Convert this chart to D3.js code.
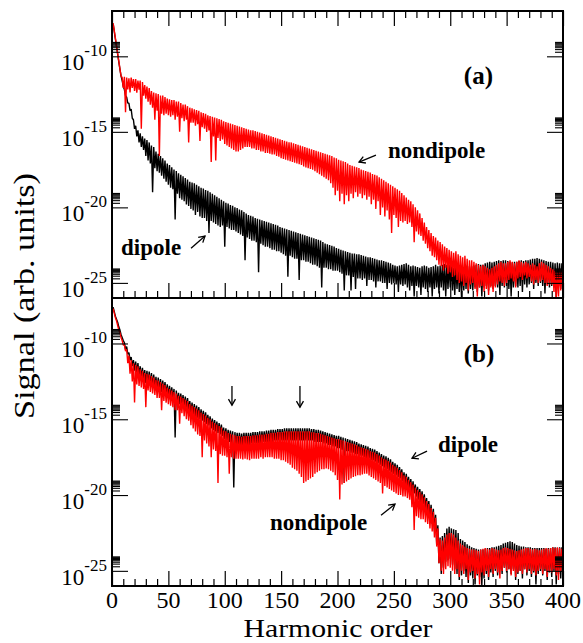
<!DOCTYPE html>
<html><head><meta charset="utf-8">
<script src="https://cdn.jsdelivr.net/npm/d3@7"></script>
<style>
body{margin:0;background:#fff}
svg{display:block}
</style>
</head><body>
<svg id="chart" width="583" height="643" font-family="'Liberation Serif', 'Times New Roman', Times, serif"></svg>
<script>
// ---------------- DATA ----------------
// harmonic orders 1..400, values are log10(signal)
const harmonicOrders = d3.range(1, 401);
const xTicksMajor = [0, 50, 100, 150, 200, 250, 300, 350, 400];
const xTicksMinor = d3.range(0, 401, 10).filter(v => v % 50 !== 0);
const yTickExponents = [-10, -15, -20, -25];
const yMinorMultipliers = [2, 3, 4, 5, 6, 7, 8, 9];

// panel (a) dipole (black)
const dipoleA = [
-7.85,-8.35,-8.85,-9.35,-9.85,-10.35,-10.85,-11.3,-11.6,-12.0,
-12.2,-12.6,-12.7,-13.1,-13.1,-13.6,-13.5,-14.1,-14.2,-14.8,
-14.6,-15.3,-14.9,-15.7,-15.1,-16.0,-15.3,-16.2,-15.45,-16.6,
-15.55,-16.9,-15.7,-17.1,-15.9,-19.0,-16.0,-17.4,-16.3,-17.6,
-16.45,-17.7,-16.6,-17.9,-16.75,-18.1,-16.9,-18.3,-17.1,-18.5,
-17.2,-18.7,-17.35,-18.8,-17.5,-20.8,-17.6,-19.1,-17.75,-19.4,
-17.85,-19.5,-17.95,-19.6,-18.05,-19.8,-18.15,-19.9,-18.3,-20.1,
-18.35,-20.2,-18.4,-20.5,-18.5,-20.3,-18.6,-20.6,-18.7,-20.7,
-18.75,-20.7,-18.85,-20.9,-18.9,-21.7,-19.0,-20.9,-19.1,-21.0,
-19.2,-21.1,-19.3,-21.2,-19.4,-21.3,-19.5,-21.2,-19.6,-22.6,
-19.7,-21.3,-19.75,-21.4,-19.85,-21.5,-19.9,-21.5,-20.0,-21.6,
-20.05,-21.7,-20.15,-21.8,-20.2,-21.9,-20.3,-23.5,-20.4,-22.0,
-20.5,-22.1,-20.55,-22.2,-20.6,-22.2,-20.7,-22.3,-20.75,-24.3,
-20.8,-22.4,-20.85,-22.5,-20.9,-22.6,-20.95,-22.6,-21.0,-22.7,
-21.05,-22.8,-21.1,-22.8,-21.15,-22.9,-21.2,-22.9,-21.3,-23.0,
-21.35,-23.1,-21.4,-23.2,-21.45,-24.6,-21.5,-23.2,-21.55,-23.3,
-21.6,-23.4,-21.65,-23.4,-21.7,-24.8,-21.75,-23.5,-21.8,-23.5,
-21.85,-23.6,-21.9,-23.6,-21.95,-23.7,-22.0,-23.8,-22.05,-23.8,
-22.1,-23.9,-22.15,-24.0,-22.2,-25.3,-22.3,-24.0,-22.4,-24.0,
-22.45,-24.1,-22.5,-24.1,-22.55,-24.2,-22.6,-24.2,-22.7,-24.2,
-22.75,-24.3,-22.8,-24.4,-22.85,-25.5,-22.9,-24.5,-22.95,-24.5,
-23.0,-25.5,-23.05,-24.6,-23.05,-25.4,-23.1,-24.7,-23.1,-24.7,
-23.15,-24.8,-23.2,-24.7,-23.25,-25.2,-23.3,-24.8,-23.3,-24.8,
-23.35,-24.9,-23.4,-25.3,-23.45,-24.9,-23.5,-24.9,-23.5,-25.0,
-23.55,-25.0,-23.6,-25.4,-23.65,-25.0,-23.7,-25.1,-23.8,-25.0,
-23.85,-25.1,-23.9,-25.6,-23.85,-25.1,-23.8,-25.2,-23.75,-25.1,
-23.7,-25.3,-23.8,-25.5,-23.9,-25.2,-23.85,-25.9,-23.9,-25.2,
-23.95,-25.3,-24.0,-25.8,-23.9,-25.3,-23.85,-25.4,-23.9,-25.6,
-24.0,-25.3,-23.95,-25.9,-23.9,-25.4,-23.8,-25.3,-23.9,-25.7,
-23.85,-25.3,-23.8,-25.5,-23.75,-25.9,-23.8,-25.4,-23.8,-25.3,
-23.9,-25.5,-24.0,-25.8,-23.9,-25.4,-23.85,-25.6,-23.9,-26.0,
-23.95,-25.5,-23.9,-25.4,-23.85,-25.7,-23.9,-25.4,-23.9,-25.5,
-23.85,-25.3,-23.8,-25.6,-23.75,-25.3,-23.8,-25.9,-23.8,-25.3,
-23.7,-25.2,-23.65,-25.5,-23.6,-25.2,-23.65,-25.4,-23.6,-25.2,
-23.55,-25.3,-23.5,-25.8,-23.55,-25.2,-23.5,-25.3,-23.5,-25.2,
-23.55,-25.4,-23.6,-25.9,-23.65,-25.3,-23.6,-25.2,-23.6,-25.3,
-23.55,-25.2,-23.5,-25.6,-23.55,-25.1,-23.5,-25.3,-23.5,-25.1,
-23.45,-25.0,-23.4,-25.4,-23.4,-25.0,-23.35,-25.2,-23.4,-25.0,
-23.45,-25.2,-23.5,-25.7,-23.55,-25.1,-23.6,-25.3,-23.6,-25.2,
-23.65,-25.3,-23.7,-26.0,-23.65,-25.2,-23.7,-25.4,-23.7,-25.3
];

// panel (a) nondipole (red)
const nondipoleA = [
-7.8,-8.3,-8.8,-9.3,-9.8,-10.3,-10.8,-11.3,-11.4,-12.1,
-11.35,-13.7,-11.4,-12.2,-11.45,-12.4,-11.4,-12.1,-11.5,-12.3,
-11.5,-12.4,-11.6,-12.2,-11.6,-14.8,-11.7,-12.6,-11.9,-12.8,
-12.0,-13.0,-12.1,-13.2,-12.3,-13.4,-12.4,-14.2,-12.45,-13.6,
-12.5,-16.6,-12.6,-13.8,-12.6,-13.9,-12.7,-13.8,-12.8,-13.9,
-12.85,-14.0,-12.9,-13.9,-12.9,-14.2,-13.0,-14.0,-13.0,-15.0,
-13.1,-14.1,-13.2,-14.3,-13.2,-14.2,-13.3,-15.7,-13.4,-14.4,
-13.45,-14.4,-13.5,-14.6,-13.55,-14.5,-13.6,-15.6,-13.7,-14.7,
-13.75,-14.8,-13.8,-15.0,-13.9,-14.9,-13.95,-17.0,-14.0,-15.3,
-14.05,-16.9,-14.1,-15.4,-14.15,-15.6,-14.2,-15.5,-14.3,-15.8,
-14.35,-15.9,-14.4,-16.0,-14.45,-16.1,-14.5,-16.2,-14.55,-16.3,
-14.6,-16.3,-14.65,-16.2,-14.7,-16.1,-14.75,-16.0,-14.8,-16.0,
-14.85,-16.0,-14.9,-16.1,-14.9,-16.1,-14.95,-16.2,-15.0,-16.2,
-15.05,-16.3,-15.1,-16.3,-15.15,-16.4,-15.2,-16.4,-15.25,-16.45,
-15.3,-16.5,-15.35,-16.5,-15.4,-16.6,-15.45,-16.65,-15.5,-16.75,
-15.55,-16.8,-15.6,-16.85,-15.65,-16.9,-15.7,-16.95,-15.7,-17.0,
-15.75,-17.05,-15.8,-17.1,-15.85,-17.15,-15.9,-17.2,-15.95,-17.3,
-16.0,-17.35,-16.05,-17.4,-16.1,-17.45,-16.15,-17.5,-16.2,-17.6,
-16.25,-17.7,-16.3,-17.8,-16.35,-17.9,-16.4,-18.0,-16.45,-18.1,
-16.5,-18.2,-16.55,-18.4,-16.6,-18.7,-16.7,-19.2,-16.75,-18.9,
-16.85,-19.6,-16.9,-19.1,-16.95,-19.8,-17.0,-19.2,-17.1,-19.6,
-17.2,-19.1,-17.25,-19.4,-17.3,-19.0,-17.35,-19.3,-17.4,-19.1,
-17.5,-19.4,-17.55,-19.2,-17.6,-19.5,-17.65,-19.3,-17.7,-19.8,
-17.8,-19.5,-17.85,-20.1,-17.9,-19.6,-18.0,-20.5,-18.1,-20.0,
-18.2,-20.6,-18.3,-20.2,-18.4,-20.8,-18.5,-21.7,-18.6,-20.5,
-18.7,-20.7,-18.8,-21.3,-18.9,-20.9,-19.05,-21.0,-19.2,-20.9,
-19.35,-21.1,-19.5,-21.0,-19.6,-21.3,-19.8,-22.3,-20.0,-21.6,
-20.2,-21.8,-20.4,-21.9,-20.7,-22.2,-21.0,-22.4,-21.3,-22.7,
-21.5,-22.9,-21.7,-23.2,-21.9,-23.3,-22.0,-23.5,-22.2,-23.8,
-22.3,-23.9,-22.45,-24.2,-22.6,-24.0,-22.7,-24.4,-22.8,-24.3,
-22.9,-24.6,-23.0,-24.5,-22.9,-24.8,-23.1,-25.0,-23.2,-24.9,
-23.3,-25.2,-23.2,-25.0,-23.4,-25.5,-23.5,-25.1,-23.5,-25.0,
-23.6,-25.4,-23.7,-25.9,-23.8,-25.3,-23.9,-25.2,-23.8,-25.6,
-23.9,-25.4,-24.0,-25.8,-24.1,-25.3,-24.0,-25.6,-23.9,-25.3,
-23.8,-25.1,-23.7,-24.9,-23.6,-25.0,-23.7,-25.2,-23.7,-25.0,
-23.6,-24.8,-23.5,-24.7,-23.6,-24.9,-23.7,-25.3,-23.6,-24.7,
-23.5,-24.6,-23.6,-24.8,-23.7,-24.5,-23.6,-24.7,-23.7,-24.6,
-23.8,-24.9,-23.7,-25.1,-23.8,-24.8,-23.9,-25.0,-23.7,-24.9,
-23.6,-24.8,-23.7,-25.0,-23.8,-25.2,-23.9,-25.1,-24.0,-25.1,
-24.1,-25.6,-24.2,-26.0,-24.3,-25.9,-24.1,-25.5,-24.2,-25.6
];

// panel (b) dipole (black)
const dipoleB = [
-7.6,-7.9,-8.2,-8.4,-8.6,-8.9,-9.1,-9.4,-9.6,-9.8,
-9.95,-10.4,-10.2,-10.7,-10.6,-11.1,-10.9,-11.5,-11.1,-11.8,
-11.2,-12.0,-11.3,-12.1,-11.5,-12.3,-11.6,-12.4,-11.75,-12.6,
-11.8,-12.7,-11.85,-12.8,-11.95,-12.9,-12.05,-13.0,-12.2,-13.1,
-12.25,-13.1,-12.35,-13.2,-12.45,-13.3,-12.55,-13.4,-12.7,-13.5,
-12.8,-13.6,-12.9,-13.7,-13.0,-16.2,-13.1,-13.9,-13.25,-14.0,
-13.3,-14.1,-13.4,-14.2,-13.5,-14.3,-13.6,-14.4,-13.8,-14.6,
-13.9,-14.7,-14.0,-14.8,-14.1,-14.9,-14.2,-15.0,-14.35,-15.1,
-14.45,-15.2,-14.55,-15.3,-14.7,-15.4,-14.8,-15.6,-14.95,-15.7,
-15.05,-15.8,-15.15,-15.9,-15.25,-16.0,-15.35,-16.1,-15.55,-16.3,
-15.6,-16.4,-15.7,-16.5,-15.75,-16.6,-15.8,-19.5,-15.85,-16.7,
-15.9,-16.7,-15.9,-16.7,-15.95,-16.7,-15.9,-16.7,-15.9,-16.7,
-15.9,-16.7,-15.9,-16.6,-15.85,-16.6,-15.85,-16.6,-15.85,-16.6,
-15.8,-16.6,-15.8,-16.5,-15.8,-16.5,-15.75,-16.5,-15.75,-16.5,
-15.7,-16.5,-15.7,-16.4,-15.7,-16.4,-15.65,-16.4,-15.65,-16.4,
-15.65,-16.4,-15.6,-16.4,-15.6,-16.4,-15.6,-16.4,-15.6,-16.4,
-15.6,-16.4,-15.6,-16.4,-15.6,-16.4,-15.6,-16.4,-15.6,-16.4,
-15.6,-16.4,-15.6,-16.4,-15.6,-16.4,-15.65,-16.4,-15.65,-16.5,
-15.7,-16.5,-15.7,-16.5,-15.75,-16.5,-15.8,-16.6,-15.85,-16.6,
-15.9,-16.7,-15.95,-16.7,-16.0,-16.8,-16.05,-16.8,-16.1,-16.9,
-16.1,-16.9,-16.15,-17.0,-16.2,-19.2,-16.25,-17.1,-16.3,-17.1,
-16.35,-17.2,-16.4,-17.2,-16.45,-17.3,-16.5,-17.3,-16.6,-17.4,
-16.65,-17.4,-16.7,-17.5,-16.75,-17.6,-16.8,-17.6,-16.9,-17.7,
-16.95,-17.7,-17.0,-17.8,-17.1,-17.9,-17.2,-18.0,-17.3,-18.1,
-17.4,-18.2,-17.45,-18.3,-17.55,-18.4,-17.65,-18.5,-17.8,-18.6,
-17.9,-18.7,-18.0,-18.8,-18.15,-18.9,-18.3,-19.1,-18.5,-19.3,
-18.6,-19.4,-18.8,-19.6,-18.95,-19.8,-19.1,-19.9,-19.3,-20.1,
-19.45,-20.3,-19.6,-20.5,-19.75,-20.6,-19.95,-20.9,-20.2,-21.2,
-20.4,-21.5,-20.65,-21.9,-20.9,-22.4,-21.3,-23.3,-22.0,-24.5,
-22.8,-25.2,-22.7,-24.8,-22.5,-24.4,-22.2,-24.3,-22.1,-24.2,
-22.2,-24.6,-22.25,-24.9,-22.3,-25.2,-22.5,-25.6,-22.9,-25.3,
-23.0,-25.0,-23.1,-25.4,-23.25,-25.8,-23.35,-25.3,-23.45,-25.5,
-23.5,-25.9,-23.55,-25.3,-23.6,-25.4,-23.6,-26.0,-23.6,-25.5,
-23.55,-25.2,-23.5,-25.6,-23.5,-25.1,-23.45,-25.4,-23.45,-25.0,
-23.4,-25.3,-23.35,-24.9,-23.3,-25.2,-23.2,-24.8,-23.15,-25.1,
-23.1,-24.9,-23.05,-25.2,-23.1,-24.9,-23.2,-25.6,-23.3,-25.2,
-23.35,-25.0,-23.4,-25.5,-23.4,-24.9,-23.45,-25.3,-23.45,-25.0,
-23.45,-25.4,-23.5,-25.1,-23.5,-25.9,-23.5,-25.2,-23.5,-25.0,
-23.5,-25.3,-23.5,-25.0,-23.55,-25.6,-23.5,-25.1,-23.5,-25.4,
-23.45,-25.0,-23.45,-25.9,-23.5,-25.2,-23.45,-25.5,-23.45,-25.1
];

// panel (b) nondipole (red)
const nondipoleB = [
-7.7,-8.0,-8.3,-8.5,-8.8,-9.1,-9.3,-9.6,-9.8,-10.1,
-10.1,-10.5,-10.4,-11.3,-10.8,-12.0,-11.1,-12.5,-11.3,-13.9,
-11.4,-12.7,-11.5,-12.8,-11.7,-12.9,-11.8,-13.0,-11.95,-14.2,
-12.0,-13.1,-12.05,-13.2,-12.15,-13.3,-12.25,-13.4,-12.4,-13.6,
-12.45,-13.6,-12.55,-14.4,-12.65,-13.8,-12.75,-13.9,-12.9,-14.0,
-13.0,-14.1,-13.1,-14.2,-13.2,-14.4,-13.3,-14.4,-13.45,-15.3,
-13.5,-14.6,-13.6,-14.8,-13.7,-15.0,-13.8,-15.1,-14.0,-15.4,
-14.1,-15.6,-14.2,-15.8,-14.3,-16.0,-14.4,-16.1,-14.55,-17.5,
-14.65,-16.4,-14.75,-16.6,-14.9,-16.8,-15.0,-17.5,-15.15,-17.0,
-15.25,-17.1,-15.35,-19.2,-15.45,-17.3,-15.55,-17.4,-15.75,-17.4,
-15.8,-17.5,-15.9,-18.6,-15.95,-17.5,-16.0,-17.6,-16.05,-17.6,
-16.1,-17.6,-16.1,-17.6,-16.15,-17.65,-16.1,-17.6,-16.1,-17.65,
-16.1,-17.7,-16.1,-17.6,-16.05,-17.6,-16.05,-17.6,-16.05,-17.6,
-16.0,-17.5,-16.0,-17.6,-16.0,-17.5,-15.95,-17.5,-15.95,-17.5,
-15.9,-17.5,-15.9,-17.6,-15.9,-17.6,-15.85,-17.6,-15.85,-17.7,
-15.85,-17.7,-15.8,-17.8,-15.8,-17.9,-15.8,-18.0,-15.8,-18.2,
-15.8,-18.3,-15.8,-18.4,-15.8,-18.6,-15.8,-18.8,-15.8,-19.2,
-15.8,-19.1,-15.8,-19.0,-15.8,-18.9,-15.85,-18.8,-15.85,-18.6,
-15.9,-18.5,-15.9,-18.4,-15.95,-18.3,-16.0,-18.3,-16.05,-18.25,
-16.1,-18.3,-16.15,-18.4,-16.2,-18.5,-16.25,-18.7,-16.3,-19.0,
-16.3,-20.3,-16.35,-19.3,-16.4,-19.2,-16.45,-19.1,-16.5,-19.0,
-16.55,-18.9,-16.6,-18.8,-16.65,-18.75,-16.7,-18.7,-16.8,-18.7,
-16.85,-18.65,-16.9,-18.6,-16.95,-18.6,-17.0,-18.7,-17.1,-18.8,
-17.15,-18.9,-17.2,-19.0,-17.3,-19.1,-17.4,-19.2,-17.5,-19.9,
-17.6,-19.4,-17.65,-19.5,-17.75,-19.6,-17.85,-19.7,-18.0,-19.8,
-18.1,-19.9,-18.2,-20.0,-18.35,-20.0,-18.5,-20.1,-18.7,-20.1,
-18.8,-20.2,-19.0,-20.3,-19.15,-20.8,-19.3,-22.3,-19.5,-21.4,
-19.65,-21.5,-19.8,-21.6,-19.95,-21.6,-20.15,-21.8,-20.4,-21.9,
-20.6,-22.2,-20.85,-22.4,-21.1,-22.8,-21.5,-23.4,-22.2,-24.5,
-22.9,-25.0,-23.0,-25.2,-22.8,-24.9,-22.6,-24.7,-22.5,-24.8,
-22.5,-25.0,-22.6,-25.2,-22.8,-24.9,-23.0,-25.4,-23.2,-25.0,
-23.3,-25.2,-23.4,-24.9,-23.5,-25.6,-23.55,-25.1,-23.6,-25.0,
-23.6,-25.5,-23.65,-25.2,-23.7,-25.9,-23.6,-25.1,-23.55,-25.3,
-23.5,-25.0,-23.55,-25.4,-23.6,-24.9,-23.5,-25.2,-23.55,-24.9,
-23.6,-25.1,-23.65,-25.5,-23.6,-25.0,-23.5,-24.8,-23.45,-25.0,
-23.5,-24.9,-23.55,-25.3,-23.6,-25.0,-23.65,-25.4,-23.7,-25.1,
-23.65,-25.0,-23.6,-25.2,-23.55,-24.9,-23.5,-25.1,-23.5,-24.9,
-23.55,-25.2,-23.6,-25.0,-23.55,-25.3,-23.6,-25.0,-23.65,-24.9,
-23.6,-25.2,-23.55,-24.9,-23.5,-25.4,-23.55,-25.0,-23.5,-25.1,
-23.45,-24.9,-23.5,-25.3,-23.45,-25.6,-23.5,-25.0,-23.55,-25.4
];

// annotations: [harmonic order, log10 signal]
const annotationsA = {
  panelLabel: {text: "(a)", at: [325, -11.8]},
  labels: [
    {text: "nondipole", at: [244.8, -16.74]},
    {text: "dipole", at: [8, -23.16]}
  ],
  arrows: [
    {from: [234.1, -16.54], to: [219.1, -17.0]},
    {from: [70.1, -22.7], to: [82.5, -21.9]}
  ]
};
const annotationsB = {
  panelLabel: {text: "(b)", at: [325.5, -11.23]},
  labels: [
    {text: "dipole", at: [289.1, -17.17]},
    {text: "nondipole", at: [140.1, -22.32]}
  ],
  arrows: [
    {from: [279.4, -17.1], to: [266.1, -17.57]},
    {from: [238.6, -21.33], to: [251, -20.6]},
    {from: [106.4, -12.81], to: [106.4, -14.07]},
    {from: [166.7, -12.81], to: [166.7, -14.2]}
  ]
};

// ---------------- DRAW ----------------
const FONT = "'Liberation Serif', 'Times New Roman', Times, serif";
const svg = d3.select("#chart");
const left = 112, right = 563;
const x = d3.scaleLinear().domain([0, 400]).range([left, right]);
const yDomain = [1e-26, 1e-7];
const panels = [
  {top: 11, bottom: 298, series: [[dipoleA, "#000"], [nondipoleA, "#ff0000"]], ann: annotationsA, topTicks: true, xLabels: false},
  {top: 298, bottom: 586, series: [[dipoleB, "#000"], [nondipoleB, "#ff0000"]], ann: annotationsB, topTicks: false, xLabels: true}
];

const defs = svg.append("defs");
defs.append("marker").attr("id", "ah")
  .attr("viewBox", "-8 -5 10 10").attr("refX", 0).attr("refY", 0)
  .attr("markerWidth", 10).attr("markerHeight", 10)
  .attr("markerUnits", "userSpaceOnUse").attr("orient", "auto")
  .append("path").attr("d", "M-6,-3.5L0,0L-6,3.5")
  .attr("fill", "none").attr("stroke", "#000").attr("stroke-width", 1.3);

const yMinor = [];
yTickExponents.forEach(e => yMinorMultipliers.forEach(m => yMinor.push(m * Math.pow(10, e))));

const txt = (sel) => sel.append("text").attr("font-family", FONT).attr("fill", "#000");

panels.forEach((p, pi) => {
  const y = d3.scaleLog().domain(yDomain).range([p.bottom, p.top]);
  const clipId = "clip" + pi;
  defs.append("clipPath").attr("id", clipId).append("rect")
    .attr("x", left).attr("y", p.top).attr("width", right - left).attr("height", p.bottom - p.top);

  const line = d3.line()
    .x((d, i) => x(harmonicOrders[i]))
    .y(d => y(Math.pow(10, d)));

  const g = svg.append("g").attr("clip-path", `url(#${clipId})`);
  p.series.forEach(([vals, col]) => {
    g.append("path").datum(vals).attr("d", line)
      .attr("fill", "none").attr("stroke", col).attr("stroke-width", 1.4)
      .attr("stroke-linejoin", "bevel");
  });

  // x ticks
  const addX = (axisFn, ty, vals, size) => {
    svg.append("g").attr("transform", `translate(0,${ty})`)
      .call(axisFn(x).tickValues(vals).tickSize(-size).tickFormat(""))
      .call(s => s.select(".domain").remove())
      .call(s => s.selectAll("line").attr("stroke", "#000").attr("stroke-width", 1.2));
  };
  addX(d3.axisBottom, p.bottom, xTicksMajor, 15);
  addX(d3.axisBottom, p.bottom, xTicksMinor, 7);
  if (p.topTicks) {
    addX(d3.axisTop, p.top, xTicksMajor, 15);
    addX(d3.axisTop, p.top, xTicksMinor, 7);
  }
  // y ticks
  const majors = yTickExponents.map(e => Math.pow(10, e));
  const addY = (axisFn, tx, vals, size) => {
    svg.append("g").attr("transform", `translate(${tx},0)`)
      .call(axisFn(y).tickValues(vals).tickSize(-size).tickFormat(""))
      .call(s => s.select(".domain").remove())
      .call(s => s.selectAll("line").attr("stroke", "#000").attr("stroke-width", 1.1));
  };
  addY(d3.axisLeft, left, majors, 16);
  addY(d3.axisLeft, left, yMinor, 8);
  addY(d3.axisRight, right, majors, 16);
  addY(d3.axisRight, right, yMinor, 8);

  // y tick labels
  yTickExponents.forEach(e => {
    const t = txt(svg).attr("x", left - 5).attr("y", y(Math.pow(10, e)) + 14)
      .attr("text-anchor", "end");
    t.append("tspan").attr("font-size", "23px").text("10");
    t.append("tspan").attr("font-size", "17px").attr("dy", "-14").text("-" + Math.abs(e));
  });

  // frame
  svg.append("rect").attr("x", left).attr("y", p.top)
    .attr("width", right - left).attr("height", p.bottom - p.top)
    .attr("fill", "none").attr("stroke", "#000").attr("stroke-width", 2);

  // x tick labels
  if (p.xLabels) {
    xTicksMajor.forEach(v => {
      txt(svg).attr("x", x(v)).attr("y", p.bottom + 22)
        .attr("text-anchor", "middle").attr("font-size", "24px").text(v);
    });
  }

  // annotations
  const a = p.ann;
  txt(svg).attr("x", x(a.panelLabel.at[0])).attr("y", y(Math.pow(10, a.panelLabel.at[1])))
    .attr("text-anchor", "middle").attr("font-size", "25px").attr("font-weight", "bold").text(a.panelLabel.text);
  a.labels.forEach(l => {
    txt(svg).attr("x", x(l.at[0])).attr("y", y(Math.pow(10, l.at[1])))
      .attr("font-size", "23px").attr("font-weight", "bold").text(l.text);
  });
  a.arrows.forEach(ar => {
    svg.append("line")
      .attr("x1", x(ar.from[0])).attr("y1", y(Math.pow(10, ar.from[1])))
      .attr("x2", x(ar.to[0])).attr("y2", y(Math.pow(10, ar.to[1])))
      .attr("stroke", "#000").attr("stroke-width", 1.3).attr("marker-end", "url(#ah)");
  });
});

// axis titles
txt(svg).attr("x", 338).attr("y", 637)
  .attr("text-anchor", "middle").attr("font-size", "26px")
  .attr("textLength", 189).attr("lengthAdjust", "spacingAndGlyphs").text("Harmonic order");
txt(svg).attr("transform", "translate(34,296) rotate(-90)")
  .attr("text-anchor", "middle").attr("font-size", "30px")
  .attr("textLength", 246).attr("lengthAdjust", "spacingAndGlyphs").text("Signal (arb. units)");
</script>
</body></html>
